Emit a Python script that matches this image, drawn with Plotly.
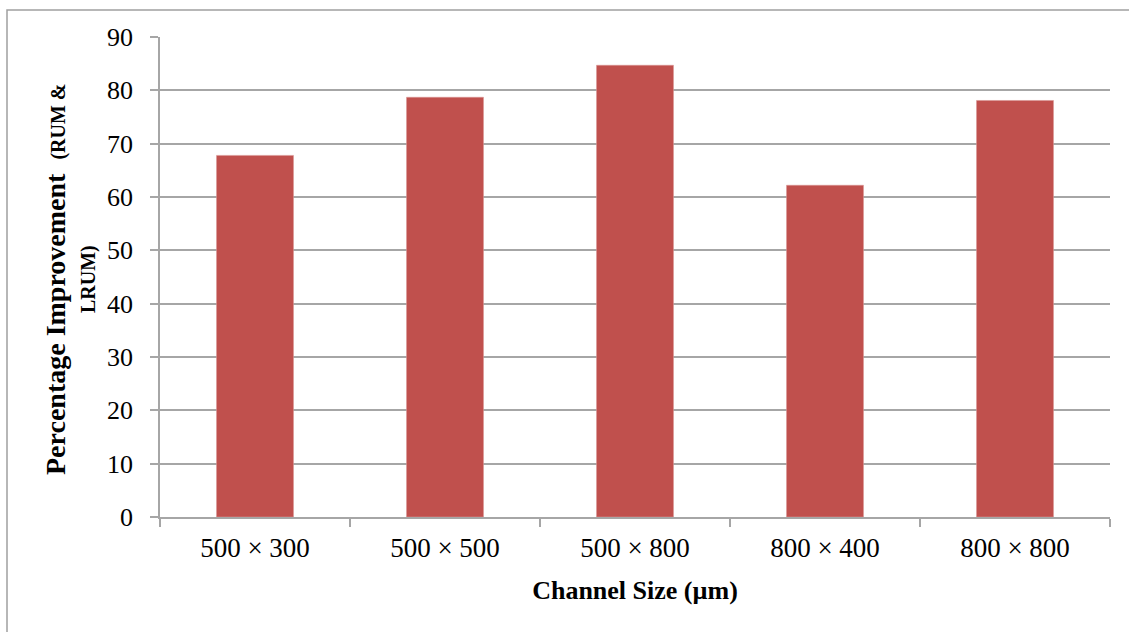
import plotly.graph_objects as go

# Channel sizes and the percentage improvement for each
channel_sizes = ["500 × 300", "500 × 500", "500 × 800", "800 × 400", "800 × 800"]
improvement = [67.8, 78.7, 84.7, 62.2, 78.1]
y_ticks = [0, 10, 20, 30, 40, 50, 60, 70, 80, 90]

BAR_COLOR = "#C0504D"
GRID_COLOR = "#A6A6A6"
FONT = "Liberation Serif"

fig = go.Figure(
    go.Bar(
        x=channel_sizes,
        y=improvement,
        marker=dict(color=BAR_COLOR, line=dict(color="#D99694", width=0.6)),
    )
)

W, H = 1129, 632
L, R, T, B = 160, 19, 37, 115
pw, ph = W - L - R, H - T - B

def px_x(px):
    return (px - L) / pw

def px_y(py):
    return (H - B - py) / ph

# Two-line rotated y-axis title, each line placed on its own
y_title_lines = [
    ("<b>Percentage Improvement  <span style='font-size:20px'>(RUM &amp;</span></b>", 55),
    ("<b><span style='font-size:20px'>LRUM)</span></b>", 88),
]

fig.update_layout(
    width=W,
    height=H,
    margin=dict(l=L, r=R, t=T, b=B),
    paper_bgcolor="white",
    plot_bgcolor="white",
    bargap=0.595,
    showlegend=False,
    font=dict(family=FONT, size=26, color="black"),
    shapes=[
        dict(
            type="rect", xref="paper", yref="paper",
            x0=px_x(7), x1=px_x(1140), y0=px_y(645), y1=px_y(10),
            line=dict(color="#A0A0A0", width=1.5), fillcolor="rgba(0,0,0,0)",
            layer="below",
        )
    ],
    annotations=[
        dict(
            text=txt, xref="paper", yref="paper", x=px_x(cx), y=px_y(279),
            textangle=-90, showarrow=False, xanchor="center", yanchor="middle",
            font=dict(family=FONT, size=28, color="black"),
        )
        for txt, cx in y_title_lines
    ],
)

fig.update_xaxes(
    showline=True, linecolor=GRID_COLOR, linewidth=1.5,
    ticks="outside", tickson="boundaries", ticklen=8, tickcolor=GRID_COLOR, tickwidth=1.5,
    ticklabelstandoff=6,
    tickfont=dict(family=FONT, size=27),
    title=dict(text="<b>Channel Size (µm)</b>", font=dict(family=FONT, size=26), standoff=19),
)

fig.update_yaxes(
    range=[0, 90], tickvals=y_ticks,
    showgrid=True, gridcolor=GRID_COLOR, gridwidth=1.5,
    showline=True, linecolor=GRID_COLOR, linewidth=1.5,
    ticks="outside", ticklen=8, tickcolor=GRID_COLOR, tickwidth=1.5,
    ticklabelstandoff=12,
    tickfont=dict(family=FONT, size=26),
    zeroline=False,
)

fig.write_html("out.html")
